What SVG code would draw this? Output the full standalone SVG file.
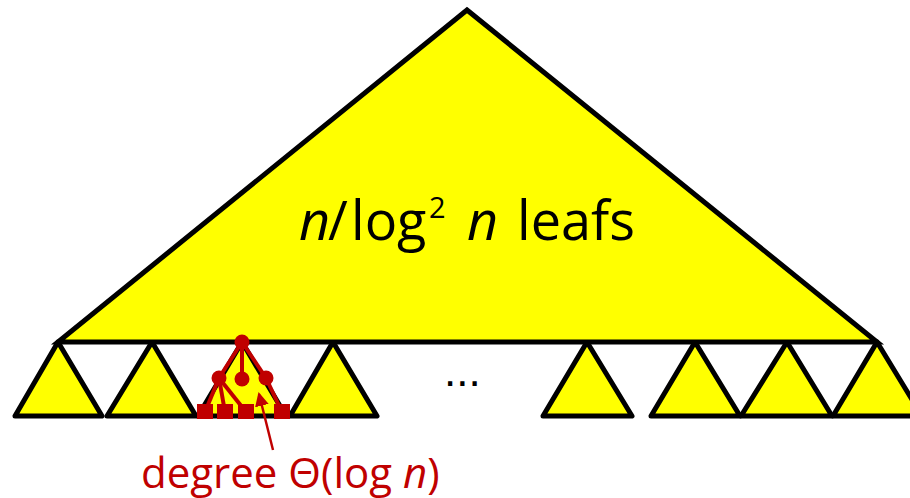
<svg xmlns="http://www.w3.org/2000/svg" width="910" height="498" viewBox="0 0 910 498">
<defs>
<style>
.tri{fill:#FFFF00;stroke:#000;stroke-width:5;stroke-linejoin:round}
.big{fill:#FFFF00;stroke:#000;stroke-width:5;stroke-linejoin:miter}
.edge{stroke:#C00000;stroke-width:4;fill:none}
.node{fill:#C00000}
.lbl{font-family:"Open Sans","Liberation Sans",sans-serif}
</style>
<marker id="ah" markerWidth="14" markerHeight="14" refX="12" refY="7" orient="auto" markerUnits="userSpaceOnUse" viewBox="0 0 14 14">
<path d="M0,0 L14,7 L0,14 z" fill="#C00000"/>
</marker>
</defs>
<rect width="910" height="498" fill="#fff"/>
<g id="subtrees">
<polygon class="tri" points="58,342 102,416 15,416"/>
<polygon class="tri" points="152,342 196,416 107,416"/>
<polygon class="tri" points="242,342 286,416 198,416"/>
<polygon class="tri" points="333,342 377,416 290,416"/>
<polygon class="tri" points="587,342 632,416 543,416"/>
<polygon class="tri" points="695,342 740,416 651,416"/>
<polygon class="tri" points="787,342 832,416 741,416"/>
<polygon class="tri" points="877,342 922,416 833,416"/>
</g>
<g id="top-tree">
<polygon class="big" points="467,10 877,342 58,342"/>
<text class="lbl" y="240" font-size="54" fill="#000"><tspan x="299" font-style="italic">n</tspan><tspan x="328">/</tspan><tspan x="351">log</tspan><tspan x="429" font-size="29" dy="-22">2</tspan><tspan x="467" dy="22" font-style="italic">n</tspan><tspan x="517">leafs</tspan></text>
</g>
<g id="connectors">
<line class="edge" x1="242" y1="342" x2="219" y2="378"/>
<line class="edge" x1="242" y1="342" x2="242" y2="379"/>
<line class="edge" x1="242" y1="342" x2="266" y2="378"/>
<line class="edge" x1="219" y1="378" x2="205" y2="412"/>
<line class="edge" x1="219" y1="378" x2="225" y2="412"/>
<line class="edge" x1="219" y1="378" x2="246" y2="412"/>
<line class="edge" x1="266" y1="378" x2="282" y2="412"/>
<line x1="273" y1="450" x2="259" y2="394" stroke="#C00000" stroke-width="2.5" marker-end="url(#ah)"/>
</g>
<g id="small-tree">
<circle class="node" cx="242" cy="342" r="7.5"/>
<circle class="node" cx="219" cy="378" r="7.5"/>
<circle class="node" cx="242" cy="379" r="7.5"/>
<circle class="node" cx="266" cy="378" r="7.5"/>
<rect class="node" x="197" y="404" width="16" height="15"/>
<rect class="node" x="217" y="404" width="16" height="15"/>
<rect class="node" x="238" y="404" width="16" height="15"/>
<rect class="node" x="274" y="404" width="16" height="15"/>
</g>
<g id="ellipsis">
<text x="444" y="386" font-size="44" font-family="Liberation Sans,sans-serif" fill="#000">...</text>
</g>
<g id="caption">
<text class="lbl" x="141" y="488" font-size="42" fill="#C00000">degree Θ(log <tspan font-style="italic">n</tspan>)</text>
</g>
</svg>
